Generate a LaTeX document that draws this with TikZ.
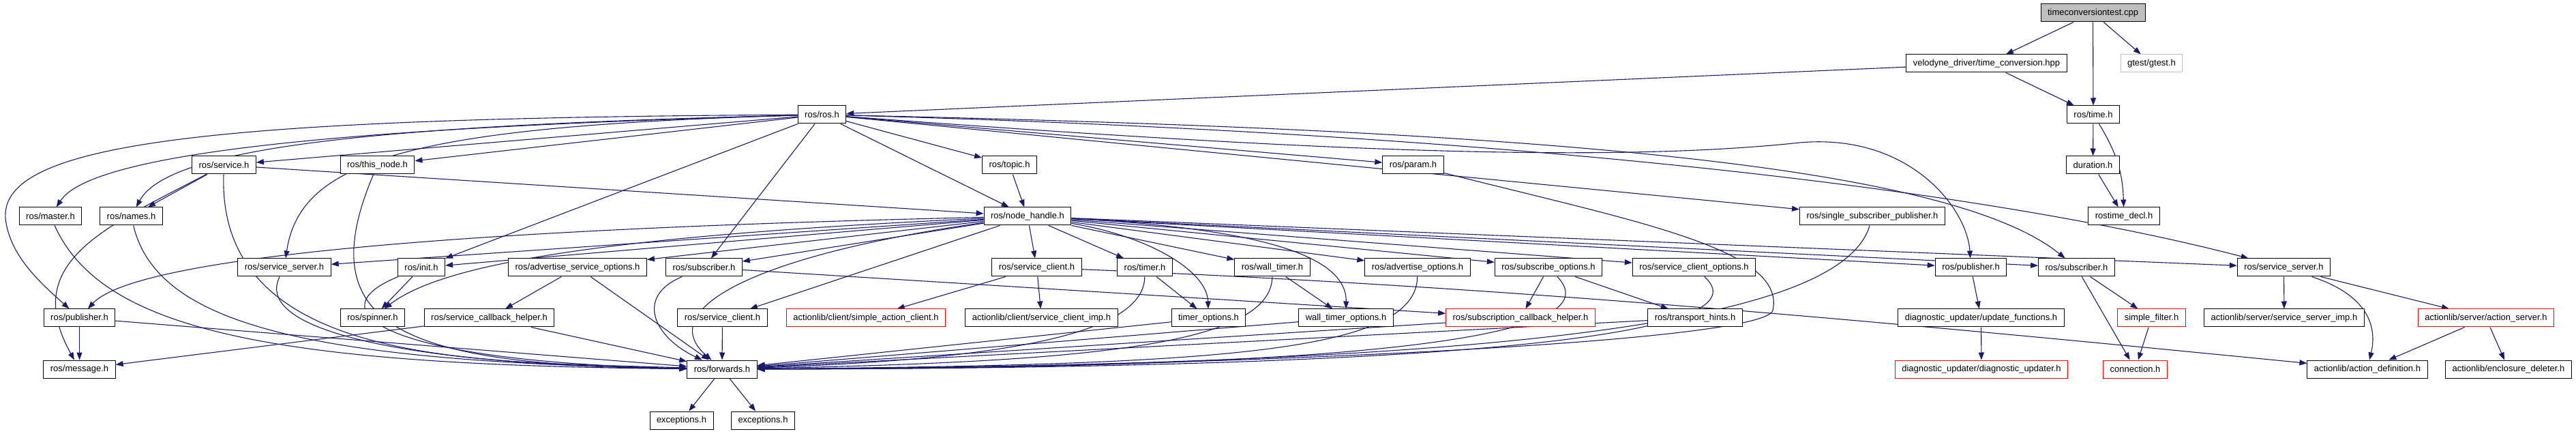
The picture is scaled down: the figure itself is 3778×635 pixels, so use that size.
\documentclass[tikz,border=0pt]{standalone}
\usepackage{fontspec}
\setmainfont{Liberation Sans}
\definecolor{inclblue}{RGB}{25, 25, 112}
\definecolor{missred}{RGB}{255, 0, 0}
\definecolor{extgrey}{RGB}{191, 191, 191}
\usepackage{tikz}
\usetikzlibrary{arrows.meta, backgrounds}

\tikzset{
  hfile/.style={draw=black, line width=1pt, fill=white, inner xsep=10pt,
                minimum height=26pt, font=\fontsize{13}{15}\selectfont},
  hfilered/.style={hfile, draw=missred},
  hfileext/.style={hfile, draw=extgrey},
  rootfile/.style={hfile, fill=extgrey},
  incl/.style={draw=inclblue, line width=1.1pt,
               -{Triangle[length=11pt, width=8pt]}}
}

\begin{document}
\begin{tikzpicture}[x=1pt, y=1pt]
        \useasboundingbox (0,0) rectangle (3778,635);
        % top
        \node[rootfile] (tct) at (3069.5,616) {timeconversiontest.cpp};
        \node[hfile] (velodyne) at (2913.5,542) {velodyne\_driver/time\_conversion.hpp};
        \node[hfileext] (gtest) at (3155.5,542) {gtest/gtest.h};
        \node[hfile] (rosh) at (1205.5,467) {ros/ros.h};
        \node[hfile] (timeh) at (3070,467) {ros/time.h};
        \node[hfile] (srvh) at (328.5,393) {ros/service.h};
        \node[hfile] (thisnode) at (553.5,393) {ros/this\_node.h};
        \node[hfile] (topic) at (1480.5,393) {ros/topic.h};
        \node[hfile] (param) at (2072.5,393) {ros/param.h};
        \node[hfile] (duration) at (3069.5,393) {duration.h};
        \node[hfile] (master) at (74,318) {ros/master.h};
        \node[hfile] (names) at (192.5,318) {ros/names.h};
        \node[hfile] (nh) at (1507,318) {ros/node\_handle.h};
        \node[hfile] (ssp) at (2746,318) {ros/single\_subscriber\_publisher.h};
        \node[hfile] (rtdecl) at (3115,318) {rostime\_decl.h};
        % row under node_handle
        \node[hfile] (srvsrvL) at (417,243) {ros/service\_server.h};
        \node[hfile] (init) at (618,243) {ros/init.h};
        \node[hfile] (advsrvopt) at (847,243) {ros/advertise\_service\_options.h};
        \node[hfile] (subL) at (1032.5,243) {ros/subscriber.h};
        \node[hfile] (srvcliU) at (1520.5,243) {ros/service\_client.h};
        \node[hfile] (timer) at (1679,243) {ros/timer.h};
        \node[hfile] (walltimer) at (1866,243) {ros/wall\_timer.h};
        \node[hfile] (advopt) at (2079,243) {ros/advertise\_options.h};
        \node[hfile] (subopt) at (2271,243) {ros/subscribe\_options.h};
        \node[hfile] (srvcliopt) at (2484.5,243) {ros/service\_client\_options.h};
        \node[hfile] (pubR) at (2890.5,243) {ros/publisher.h};
        \node[hfile] (subR) at (3045.5,243) {ros/subscriber.h};
        \node[hfile] (srvsrvR) at (3349.5,243) {ros/service\_server.h};
        \node[hfile] (pubL) at (116.5,169) {ros/publisher.h};
        \node[hfile] (spinner) at (546.5,169) {ros/spinner.h};
        \node[hfile] (srvcb) at (717.5,169) {ros/service\_callback\_helper.h};
        \node[hfile] (srvcliL) at (1059.5,169) {ros/service\_client.h};
        \node[hfilered] (simpleac) at (1270,169) {actionlib/client/simple\_action\_client.h};
        \node[hfile] (srvcliimp) at (1527.5,169) {actionlib/client/service\_client\_imp.h};
        \node[hfile] (timeropt) at (1772.5,169) {timer\_options.h};
        \node[hfile] (wtimeropt) at (1974,169) {wall\_timer\_options.h};
        \node[hfilered] (subcb) at (2230,169) {ros/subscription\_callback\_helper.h};
        \node[hfile] (hints) at (2486,169) {ros/transport\_hints.h};
        \node[hfile] (updfun) at (2905.5,169) {diagnostic\_updater/update\_functions.h};
        \node[hfilered] (simplefilt) at (3155.5,169) {simple\_filter.h};
        \node[hfile] (srvsrvimp) at (3350,169) {actionlib/server/service\_server\_imp.h};
        \node[hfilered] (actsrv) at (3646,169) {actionlib/server/action\_server.h};
        % bottom
        \node[hfile] (message) at (116.5,94) {ros/message.h};
        \node[hfile] (fwd) at (1059,94) {ros/forwards.h};
        \node[hfilered] (diagupd) at (2906,94) {diagnostic\_updater/diagnostic\_updater.h};
        \node[hfilered] (connection) at (3131.5,94) {connection.h};
        \node[hfile] (actdef) at (3472,94) {actionlib/action\_definition.h};
        \node[hfile] (encdel) at (3679,94) {actionlib/enclosure\_deleter.h};
        \node[hfile] (exca) at (999.5,19) {exceptions.h};
        \node[hfile] (excb) at (1119,19) {exceptions.h};
        \begin{scope}[on background layer]
        % straight includes
        \foreach \a/\b in {tct/velodyne, tct/timeh, tct/gtest, velodyne/rosh,
                           velodyne/timeh, timeh/duration, duration/rtdecl,
                           rosh/srvh, rosh/thisnode, rosh/init, rosh/subL,
                           rosh/nh, rosh/topic, rosh/param, rosh/ssp,
                           srvh/names, srvh/nh, topic/nh,
                           pubL/message, pubL/fwd, srvcb/message, srvcb/fwd,
                           init/spinner, advsrvopt/srvcb, advsrvopt/fwd,
                           subL/subcb, srvcliL/fwd,
                           nh/srvsrvL, nh/init, nh/advsrvopt, nh/subL,
                           nh/srvcliL, nh/srvcliU, nh/timer, nh/walltimer,
                           nh/advopt, nh/subopt, nh/srvcliopt,
                           nh/pubR, nh/subR, nh/srvsrvR,
                           srvcliU/simpleac, srvcliU/srvcliimp,
                           timer/timeropt, walltimer/wtimeropt,
                           subopt/subcb, subopt/hints,
                           timeropt/fwd, wtimeropt/fwd, subcb/fwd, hints/fwd,
                           pubR/updfun, updfun/diagupd,
                           subR/simplefilt, subR/connection, simplefilt/connection,
                           srvsrvR/srvsrvimp, srvsrvR/actsrv,
                           actsrv/actdef, actsrv/encdel,
                           fwd/exca, fwd/excb} {
          \draw[incl] (\a) -- (\b);
        }
        % curved includes, left side
        \draw[incl] (rosh) .. controls (600,450) and (140,420) .. (master);
        \draw[incl] (rosh) .. controls (600,452) and (250,425) .. (names);
        \draw[incl] (rosh) .. controls (300,462) and (0,425) .. (8,315)
              .. controls (14,260) and (60,220) .. (pubL);
        \draw[incl] (rosh) .. controls (600,450) and (440,400) .. (srvsrvL);
        \draw[incl] (srvh) .. controls (150,300) and (30,250) .. (message);
        \draw[incl] (srvh) to[out=268, in=178] (fwd);
        \draw[incl] (thisnode) .. controls (450,150) and (600,100) .. (fwd);
        \draw[incl] (master) .. controls (150,150) and (400,100) .. (fwd);
        \draw[incl] (names) .. controls (230,160) and (450,105) .. (fwd);
        \draw[incl] (srvsrvL) .. controls (370,150) and (600,100) .. (fwd);
        \draw[incl] (init) .. controls (460,180) and (560,105) .. (fwd);
        \draw[incl] (subL) .. controls (930,200) and (960,140) .. (fwd);
        \draw[incl] (nh) .. controls (900,290) and (650,250) .. (spinner);
        \draw[incl] (nh) .. controls (700,300) and (200,260) .. (pubL);
        \draw[incl] (nh) .. controls (1100,260) and (960,180) .. (fwd);
        % curved includes, right side
        \draw[incl] (nh) .. controls (1680,290) and (1770,240) .. (timeropt);
        \draw[incl] (nh) .. controls (1850,300) and (1975,260) .. (wtimeropt);
        \draw[incl] (srvcliU) .. controls (2200,215) and (2700,170) .. (actdef);
        \draw[incl] (timer) .. controls (1678,150) and (1500,110) .. (fwd);
        \draw[incl] (walltimer) .. controls (1865,130) and (1600,105) .. (fwd);
        \draw[incl] (advopt) .. controls (2077,120) and (1800,100) .. (fwd);
        \draw[incl] (subopt) .. controls (2370,140) and (2000,95) .. (fwd);
        \draw[incl] (srvcliopt) .. controls (2600,140) and (2100,95) .. (fwd);
        \draw[incl] (param) .. controls (2400,310) and (2620,270) .. (2600,180)
              .. controls (2585,130) and (1700,95) .. (fwd);
        \draw[incl] (ssp) .. controls (2700,160) and (2200,100) .. (fwd);
        \draw[incl] (rosh) .. controls (1900,415) and (2350,395) .. (2640,426)
              .. controls (2800,440) and (2885,330) .. (pubR);
        \draw[incl] (rosh) .. controls (2200,445) and (2850,400) .. (subR);
        \draw[incl] (rosh) .. controls (2200,440) and (2900,360) .. (srvsrvR);
        \draw[incl] (timeh) to[bend left=15] (rtdecl);
        \draw[incl] (srvsrvR) .. controls (3480,200) and (3485,150) .. (actdef);
        \end{scope}
      \end{tikzpicture}
\end{document}
